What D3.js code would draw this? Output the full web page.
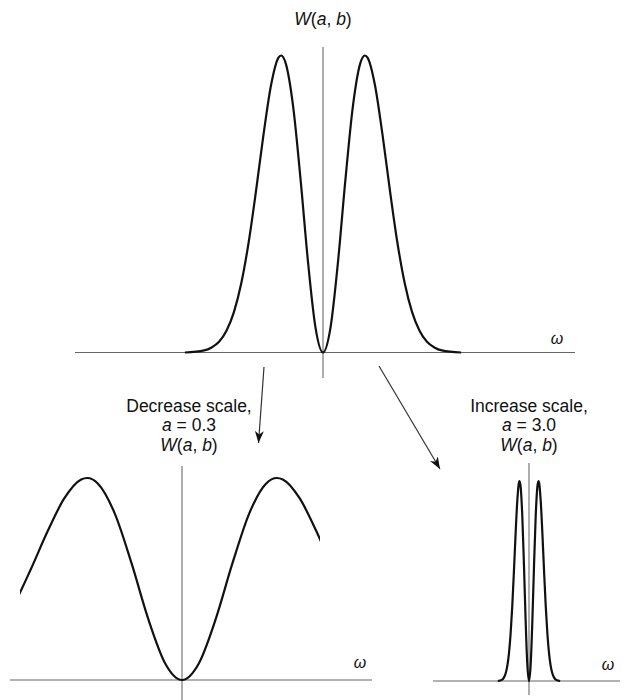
<!DOCTYPE html>
<html>
<head>
<meta charset="utf-8">
<script src="https://cdn.jsdelivr.net/npm/d3@7"></script>
<style>
  body { margin: 0; background: #fff; }
  text { font-family: "Liberation Sans", Arial, sans-serif; fill: #111; white-space: pre; }
</style>
</head>
<body>
<svg id="chart" width="626" height="700"></svg>
<script>
// wavelet spectrum |W|, peak normalised to 1 (right half, mirrored below)
const omega = [0, 0.25, 0.5, 0.75, 1.0, 1.25, 1.41, 1.5, 1.75, 2.0, 2.25, 2.5, 2.75, 3.0, 3.25, 3.5, 3.75, 4.0, 4.65];
const amp   = [0, 0.082, 0.300, 0.577, 0.824, 0.972, 1.0, 0.993, 0.900, 0.736, 0.548, 0.373, 0.234, 0.136, 0.073, 0.036, 0.017, 0.007, 0];

// scale factors shown under the arrows
const scaleNames = ["Decrease scale,", "Increase scale,"];
const scaleValues = ["0.3", "3.0"];

let svg = d3.select("#chart");

// full symmetric curve
let spectrum = [];
for (let i = omega.length - 1; i > 0; i--) spectrum.push({w: -omega[i], v: amp[i]});
for (let i = 0; i < omega.length; i++) spectrum.push({w: omega[i], v: amp[i]});

// panel layout: centre, baseline, px per unit omega, peak height
let panels = [
  {id: "top", cx: 323, y0: 352.5, k: 29.7, h: 297, ax: [75, 575], ay: [47, 378], wl: [557, 344], clip: null},
  {id: "small", cx: 182, y0: 680, k: 67.2, h: 202, ax: [10, 372], ay: [466, 700], wl: [360, 668], clip: [20, 320]},
  {id: "large", cx: 529, y0: 681, k: 6.7, h: 200, ax: [433, 620], ay: [463, 695], wl: [608, 670], clip: null}
];

let defs = svg.append("defs");

panels.forEach(p => {
  let x = d3.scaleLinear().domain([0, 1]).range([p.cx, p.cx + p.k]);
  let y = d3.scaleLinear().domain([0, 1]).range([p.y0, p.y0 - p.h]);
  let g = svg.append("g");

  // axes
  g.append("line")
    .attr("x1", p.ax[0]).attr("x2", p.ax[1])
    .attr("y1", y(0)).attr("y2", y(0))
    .attr("stroke", "#666").attr("stroke-width", 1.2);
  g.append("line")
    .attr("x1", x(0)).attr("x2", x(0))
    .attr("y1", p.ay[0]).attr("y2", p.ay[1])
    .attr("stroke", "#777").attr("stroke-width", 1.2);

  let line = d3.line()
    .x(d => x(d.w))
    .y(d => y(d.v))
    .curve(d3.curveMonotoneX);

  let path = g.append("path")
    .datum(spectrum)
    .attr("d", line)
    .attr("fill", "none")
    .attr("stroke", "#111")
    .attr("stroke-width", 2.2)
    .attr("stroke-linejoin", "round");

  if (p.clip) {
    defs.append("clipPath").attr("id", "clip-" + p.id)
      .append("rect")
      .attr("x", p.clip[0]).attr("y", 0)
      .attr("width", p.clip[1] - p.clip[0]).attr("height", 700);
    path.attr("clip-path", "url(#clip-" + p.id + ")");
  }

  g.append("text")
    .attr("x", p.wl[0]).attr("y", p.wl[1])
    .attr("text-anchor", "middle")
    .attr("font-size", 16)
    .attr("font-style", "italic")
    .text("ω");
});

// text helpers, italic pieces as tspans
function richText(x, y, parts) {
  let t = svg.append("text")
    .attr("x", x).attr("y", y)
    .attr("text-anchor", "middle")
    .attr("font-size", 17.5);
  parts.forEach(pt => {
    t.append("tspan")
      .attr("font-style", pt[1] ? "italic" : "normal")
      .text(pt[0]);
  });
}
function wLabel(x, y) {
  richText(x, y, [["W", true], ["(", false], ["a", true], [", ", false], ["b", true], [")", false]]);
}

wLabel(323, 25);

// captions under the arrows
let captions = [{cx: 189, y: 412}, {cx: 529, y: 412}];
captions.forEach((c, i) => {
  richText(c.cx, c.y, [[scaleNames[i], false]]);
  richText(c.cx, c.y + 18.5, [["a", true], [" = " + scaleValues[i], false]]);
  wLabel(c.cx, c.y + 38.5);
});

// arrows
defs.append("marker")
  .attr("id", "head")
  .attr("viewBox", "-12 -5 13 10")
  .attr("refX", 0).attr("refY", 0)
  .attr("markerWidth", 13).attr("markerHeight", 10)
  .attr("markerUnits", "userSpaceOnUse")
  .attr("orient", "auto")
  .append("path")
  .attr("d", "M0,0 L-12,-4.5 L-8.5,0 L-12,4.5 Z")
  .attr("fill", "#111");

let arrows = [[264, 367, 258.5, 443], [379, 366, 440, 469]];
arrows.forEach(a => {
  svg.append("line")
    .attr("x1", a[0]).attr("y1", a[1])
    .attr("x2", a[2]).attr("y2", a[3])
    .attr("stroke", "#333").attr("stroke-width", 1.2)
    .attr("marker-end", "url(#head)");
});
</script>
</body>
</html>
